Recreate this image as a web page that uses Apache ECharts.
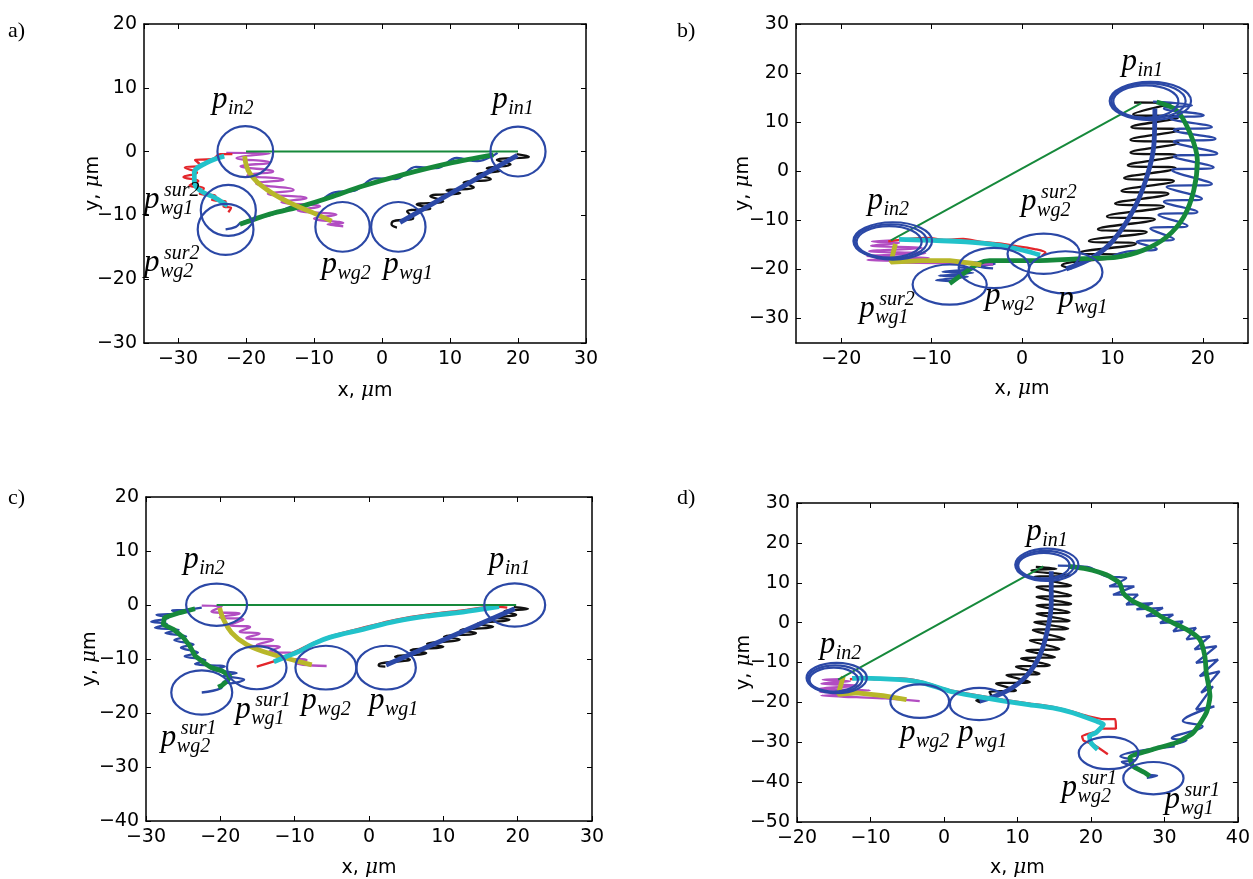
<!DOCTYPE html>
<html>
<head>
<meta charset="utf-8">
<script src="https://cdn.jsdelivr.net/npm/echarts@6/dist/echarts.min.js"></script>
<style>
  html, body { margin: 0; background: #fff; }
  #chart { width: 1253px; height: 879px; }
</style>
</head>
<body>
<div id="chart"></div>
<script>
// ---- panel a ----
const aCircles = [[-20.1, 0, 4.1, 4.0], [20, 0, 4.05, 3.9], [2.4, -11.8, 4.0, 3.9], [-5.8, -11.8, 4.0, 3.9], [-22.6, -9.2, 4.05, 4.0], [-23, -12.2, 4.1, 4.0]];
const aLink = [[-20, 0], [20, 0]];
const aGreen = [[16.4, -0.5], [10.0, -1.8], [3.1, -3.6], [-2.8, -5.4], [-7.7, -7.2], [-11.6, -8.5], [-16.5, -9.8], [-20.9, -11.4]];
const aBlueW = [[17, -0.2], [14, -1.5], [11, -1.0], [8, -2.6], [5, -2.4], [2, -4.3], [-1, -4.2], [-4, -6.1], [-7, -6.4], [-10, -8.2], [-13, -8.5], [-16, -9.8], [-19, -10.6], [-20.8, -11.2], [-21.5, -11.8], [-23, -12.2]];
const aBlack = [[19.8, -0.4], [21.6, -0.8], [16.9, -1.3], [18.9, -2.0], [15.4, -2.6], [17.4, -3.0], [14.0, -3.6], [16.0, -4.3], [12.0, -4.9], [13.5, -5.6], [9.5, -6.1], [11.5, -6.5], [7.1, -7.0], [9.0, -7.8], [5.1, -8.3], [7.1, -8.9], [3.7, -9.4], [4.6, -10.4], [1.7, -10.9], [1.4, -11.4], [2.2, -11.9]];
const aBlue = [[19.9, -0.6], [2.65, -11.1]];
const aMagenta = [[-22.9, -0.2], [-16.5, -0.3], [-21.4, -1.0], [-16.5, -1.7], [-20.8, -2.3], [-16.0, -3.1], [-19.8, -3.7], [-14.5, -4.4], [-18.5, -5.0], [-13.0, -6.0], [-16.8, -6.6], [-11.1, -7.3], [-14.8, -7.9], [-9.1, -8.6], [-12.4, -9.2], [-6.7, -9.9], [-10.0, -10.5], [-5.7, -11.2], [-8.0, -11.4], [-5.7, -11.7]];
const aOlive = [[-20.2, -0.7], [-19.5, -3.3], [-17.0, -5.9], [-13.6, -8.0], [-10.1, -9.6], [-7.4, -10.9]];
const aCyan = [[-23.2, -0.7], [-25.9, -1.8], [-27.6, -3.3], [-27.6, -4.9], [-26.6, -6.2], [-24.6, -7.2], [-23.4, -8.0], [-22.7, -8.5]];
const aRed = [[-22.0, -0.4], [-23.8, -0.4], [-25.0, -1.2], [-27.5, -1.3], [-26.6, -2.2], [-29.0, -2.5], [-27.2, -3.3], [-29.2, -4.0], [-27.0, -4.6], [-28.3, -5.3], [-26.2, -5.8], [-26.8, -6.6], [-24.5, -6.9], [-25.0, -7.6], [-23.0, -7.8], [-23.3, -8.6], [-22.2, -8.8], [-22.6, -9.5]];
const aLabels = [[-25.0, 6.5, 'in2', ''], [16.2, 6.5, 'in1', ''], [-35.0, -9.1, 'wg1', 'sur2'], [-35.0, -19.0, 'wg2', 'sur2'], [-8.9, -19.3, 'wg2', ''], [0.2, -19.3, 'wg1', '']];

// ---- panel b ----
const bCircles = [[14.2, 14.3, 4.5, 3.9], [14.0, 14.3, 4.1, 3.6], [13.7, 14.2, 3.6, 3.3],
  [-14.3, -14.2, 4.35, 3.8], [-14.5, -14.3, 4.0, 3.5], [-14.7, -14.4, 3.6, 3.2],
  [-8.0, -23.1, 4.1, 4.1], [-3.1, -19.7, 3.9, 4.1], [2.4, -16.8, 4.0, 4.1], [4.8, -20.6, 4.1, 4.3]];
const bLink = [[-14.5, -14.1], [13.2, 13.9]];
const bBlack = [[12.4, 14.0], [16.5, 13.8], [12.3, 11.6], [17.3, 11.0], [12.1, 9.0], [17.3, 8.4], [12.0, 6.4], [17.3, 5.8], [12.0, 3.8], [17.1, 3.2], [11.7, 1.2], [17.0, 0.6], [11.3, -1.4], [16.8, -2.0], [11.0, -4.0], [16.2, -4.6], [10.3, -6.6], [15.7, -7.2], [9.4, -9.2], [14.7, -9.8], [8.4, -11.8], [13.8, -12.4], [7.4, -14.2], [12.6, -14.8], [6.4, -16.6], [11.4, -17.2], [4.4, -19.2], [5.5, -19.8]];
const bBlue = [[14.7, 12.8], [14.6, 5.6], [13.8, -1.2], [12.3, -8.0], [10.1, -14.1], [7.9, -17.5], [4.9, -19.9]];
const bBlueW = [[14.5, 14.2], [18.8, 13.4], [15.7, 12.8], [20.1, 11.4], [16.4, 10.8], [21.0, 9.0], [16.8, 8.4], [21.4, 6.6], [16.8, 6.0], [21.6, 3.6], [16.8, 3.0], [21.2, 0.8], [16.6, 0.2], [21.0, -2.6], [16.0, -3.2], [19.9, -5.6], [15.7, -6.2], [19.4, -8.3], [15.1, -8.9], [18.3, -11.1], [14.2, -11.7], [16.8, -13.8], [12.7, -14.4], [14.9, -15.8], [11.6, -16.4], [10.0, -17.3]];
const bGreen = [[14.9, 14.1], [17.1, 12.4], [18.6, 7.7], [19.4, 2.2], [19.0, -3.9], [17.9, -9.3], [16.0, -13.4], [13.4, -16.1], [10.5, -17.5], [6.8, -17.8], [1.2, -18.2], [-3.6, -18.2], [-4.7, -18.7], [-8.0, -22.9]];
const bBlueTail = [[-7, -19.6], [-5.3, -19.9], [-8.8, -20.5], [-5.4, -20.7], [-9.2, -21.3], [-6, -21.5], [-9.5, -22.2], [-7.5, -22.4]];
const bBlueKink = [[-5.5, -18.6], [-3.0, -18.9], [-5.0, -19.4], [-3.2, -19.8]];
const bCyan = [[-13.6, -13.9], [-9.9, -14.1], [-6.2, -14.4], [-2.5, -15.1], [0.1, -16.1], [2.0, -17.1]];
const bRed = [[-14.8, -14.3], [-12.5, -13.8], [-10.5, -13.6], [-8.5, -14.0], [-6.5, -13.8], [-4.5, -14.4], [-2.5, -14.7], [-0.5, -15.3], [1.5, -15.9], [2.6, -16.6], [2.2, -17.2]];
const bMagenta = [[-14.3, -14.1], [-16.6, -14.3], [-13.6, -14.6], [-16.7, -15.2], [-11.1, -15.6], [-16.9, -16.3], [-10.7, -16.7], [-17.1, -17.3], [-10.3, -17.7], [-17.1, -18.1], [-10.7, -18.4], [-14, -18.6], [-8, -18.7], [-3.2, -19.0]];
const bOlive = [[-14.0, -14.8], [-14.5, -18.5], [-11, -18.2], [-8.0, -18.2], [-5.4, -18.8], [-4.5, -19.1]];
const bLabels = [[11.0, 20.3, 'in1', ''], [-17.1, -8.0, 'in2', ''], [-0.1, -8.2, 'wg2', 'sur2'], [-4.1, -27.4, 'wg2', ''], [4.0, -28.1, 'wg1', ''], [-18.0, -30.1, 'wg1', 'sur2']];

// ---- panel c ----
const cCircles = [[-20.5, 0.05, 4.1, 3.9], [19.6, 0, 4.1, 4.0], [2.3, -11.6, 4.0, 4.05], [-5.8, -11.6, 4.1, 4.05], [-15.1, -11.6, 4.0, 4.0], [-22.5, -16.2, 4.1, 4.1]];
const cLink = [[-20.5, 0], [19.8, 0]];
const cGreen = [[-23.4, -0.7], [-25.4, -1.4], [-27.5, -2.3], [-27.7, -3.6], [-26.3, -4.5], [-25.0, -6.0], [-24.1, -7.6], [-23.4, -9.4], [-22.3, -10.6], [-21.2, -11.6], [-19.8, -12.2], [-18.7, -13.1], [-19.0, -14.0], [-19.8, -14.9], [-20.3, -15.2]];
const cBlueW = [[-22.5, -0.5], [-24.5, -0.9], [-26.5, -1.0], [-25.5, -1.6], [-28.6, -1.8], [-27.0, -2.4], [-29.3, -3.1], [-27.2, -3.5], [-28.8, -4.2], [-25.6, -4.6], [-27.4, -5.2], [-24.6, -5.8], [-26.2, -6.5], [-23.6, -7.3], [-25.3, -7.9], [-23.0, -8.8], [-24.8, -9.5], [-22.0, -10.2], [-23.4, -10.9], [-19.4, -11.4], [-21.0, -12.0], [-17.8, -12.6], [-19.6, -13.1], [-16.8, -13.8], [-18.6, -14.5], [-19.5, -14.2], [-19.9, -15.4], [-22.5, -16.2]];
const cMagenta = [[-22.5, -0.1], [-19.8, -0.3], [-21.2, -1.2], [-17.4, -1.6], [-20.1, -2.3], [-16.9, -2.7], [-18.7, -3.7], [-16.0, -4.1], [-17.4, -4.9], [-14.7, -5.3], [-16.5, -6.1], [-12.9, -6.5], [-15.1, -7.4], [-12.0, -7.8], [-13.4, -8.6], [-10.2, -9.0], [-12.0, -9.8], [-8.4, -10.2], [-9.8, -10.8], [-5.7, -11.3]];
const cOlive = [[-20.1, -0.5], [-19.6, -2.6], [-18.5, -5.1], [-16.5, -7.3], [-13.8, -8.8], [-10.7, -10.0], [-7.7, -11.1]];
const cCyan = [[-12.8, -10.5], [-11.2, -9.6], [-9.4, -8.6], [-7.5, -7.2], [-5.3, -6.0], [-0.8, -4.5], [3.7, -3.0], [8.2, -2.0], [12.6, -1.3], [15.5, -0.7], [17.5, -0.3]];
const cRed = [[-15.1, -11.4], [-12.7, -10.4], [-11, -9.3], [-9.4, -8.3], [-7.3, -6.9], [-5.0, -5.7], [-0.8, -4.2], [3.7, -2.7], [8.2, -1.7], [12.6, -1.0], [16.8, -0.3], [18.6, -0.5]];
const cBlack = [[19.5, -0.4], [21.4, -0.7], [18.2, -1.2], [19.8, -1.8], [16.5, -2.3], [18.9, -2.7], [14.6, -3.5], [16.7, -4.0], [12.3, -4.7], [14.4, -5.2], [10.1, -5.9], [12.2, -6.4], [7.8, -7.2], [10.0, -7.7], [5.6, -8.4], [7.7, -8.9], [3.5, -9.6], [5.5, -10.1], [1.6, -10.8], [1.3, -11.2], [2.2, -11.4]];
const cBlue = [[19.6, -0.7], [2.3, -11.1]];
const cLabels = [[-25.0, 6.5, 'in2', ''], [16.1, 6.5, 'in1', ''], [-18.0, -21.3, 'wg1', 'sur1'], [-9.1, -19.6, 'wg2', ''], [0, -19.6, 'wg1', ''], [-28.0, -26.4, 'wg2', 'sur1']];

// ---- panel d ----
const dCircles = [[14.0, 14.5, 4.3, 4.05], [13.8, 14.4, 3.9, 3.6], [13.6, 14.3, 3.5, 3.2],
  [-14.6, -13.9, 4.1, 3.8], [-14.8, -14.1, 3.7, 3.4], [-15.0, -14.3, 3.3, 3.0],
  [-3.3, -19.7, 4.0, 4.2], [4.8, -20.4, 4.0, 4.05], [22.4, -32.7, 4.06, 4.05], [28.5, -39.0, 4.1, 4.05]];
const dLink = [[-14.4, -14.3], [13.5, 14.1]];
const dBlack = [[12.5, 14.0], [15.3, 13.5], [11.9, 13.1], [17.1, 11.8], [12.3, 11.4], [17.3, 9.3], [12.6, 8.9], [17.3, 6.8], [12.6, 6.4], [17.3, 4.7], [12.6, 4.3], [17.1, 2.6], [12.6, 2.2], [17.1, 0.5], [12.3, 0.1], [16.9, -1.5], [12.1, -1.9], [16.4, -4.1], [11.7, -4.5], [15.7, -6.6], [11.2, -7.0], [15.1, -8.6], [10.5, -9.0], [14.4, -10.7], [9.8, -11.1], [13.0, -12.8], [8.5, -13.2], [11.7, -14.9], [7.1, -15.3], [9.8, -17.0], [6.2, -17.4], [6.7, -19.1], [4.4, -19.5], [5.0, -20.0]];
const dBlue = [[14.6, 12.9], [14.6, 4.9], [14.1, -1.7], [13.0, -8.4], [11.2, -13.4], [8.5, -17.2], [4.85, -19.7]];
const dGreen = [[16.9, 14.1], [19.4, 13.5], [22.1, 12.0], [23.9, 9.9], [24.4, 7.4], [25.7, 5.4], [28.0, 3.3], [30.2, 0.8], [33.0, -1.7], [34.8, -4.2], [35.5, -8.4], [35.7, -12.6], [36.2, -18.4], [35.7, -22.6], [33.9, -27.6], [31.6, -30.1], [28.4, -31.8], [25.3, -33.9], [25.7, -36.0], [27.3, -37.6], [28.0, -38.5]];
const dBlueW = [[15.5, 14.3], [19.5, 14.0], [22.1, 11.6], [24.8, 11.2], [22.5, 9.1], [25.9, 9.1], [23.0, 7.0], [26.4, 7.0], [24.8, 4.5], [28.4, 4.9], [26.2, 3.3], [29.8, 3.7], [27.5, 1.6], [31.2, 2.0], [29.4, -0.1], [32.5, 0.3], [31.2, -2.2], [34.3, -1.3], [33.0, -4.2], [36.2, -3.4], [34.1, -6.7], [37.1, -5.9], [34.3, -10.1], [37.3, -9.3], [34.8, -13.4], [37.5, -12.2], [35.0, -17.6], [36.6, -16.0], [34.3, -21.8], [36.8, -21.0], [32.5, -24.7], [35.2, -26.0], [31.0, -29.0], [33.0, -29.5], [29.0, -31.2], [31.4, -31.0], [24.0, -33.6], [26.0, -34.6], [24.2, -34.9], [26.5, -36.5], [28.0, -38.2], [29.0, -38.4], [27.6, -38.9]];
const dCyan = [[-12.5, -14.0], [-11.2, -13.9], [-6.0, -14.3], [-2.9, -15.1], [0.8, -17.2], [4.4, -18.5], [8.0, -19.6], [11.7, -20.6], [14.8, -21.4], [17.5, -22.6], [20.7, -24.7], [21.7, -25.5], [20.7, -27.6], [19.8, -28.4], [20.0, -30.1], [20.9, -31.8]];
const dRed = [[-12.8, -14.2], [-11, -14.0], [-9.5, -14.2], [-6, -14.0], [-3, -14.8], [0.5, -16.8], [4.4, -18.2], [8, -19.3], [11.7, -20.3], [14.8, -21.1], [17.5, -22.3], [19.5, -23.4], [21.7, -24.2], [23.3, -24.2], [23.4, -26.6], [21.2, -26.6], [20.6, -27.4], [18.8, -28.5], [19.0, -29.6], [20.4, -30.6], [22.3, -33.0]];
const dMagenta = [[-14.0, -14.2], [-16.5, -14.3], [-12.8, -14.7], [-16.7, -15.3], [-11.5, -15.8], [-16.9, -16.5], [-10.1, -17.0], [-16.9, -17.4], [-11.0, -17.8], [-16.7, -18.3], [-11.9, -18.7], [-8.0, -19.0], [-3.3, -19.7]];
const dOlive = [[-13.7, -13.5], [-14.4, -18.0], [-11.9, -17.6], [-8.3, -18.3], [-5.1, -19.3]];
const dLabels = [[11.2, 20.3, 'in1', ''], [-16.9, -8.1, 'in2', ''], [-6.0, -30.2, 'wg2', ''], [1.9, -30.2, 'wg1', ''], [16.0, -44.0, 'wg2', 'sur1'], [30.0, -46.9, 'wg1', 'sur1']];

// axis ranges per panel
const xRanges = [[-35, 30], [-25, 25], [-30, 30], [-20, 40]];
const yRanges = [[-30, 20], [-35, 30], [-40, 20], [-50, 30]];
const panelNames = ['a)', 'b)', 'c)', 'd)'];

const BLUE = '#2b48a6', GREEN = '#16893b', CYAN = '#22c2ca', RED = '#e3262b',
      MAGENTA = '#b24dc2', OLIVE = '#b8b72a', BLACK = '#111';

const boxes = [
  {left: 144, top: 24, width: 442, height: 319, xGap: 38, yGap: 41},
  {left: 796, top: 24, width: 452, height: 319, xGap: 36, yGap: 43},
  {left: 146, top: 497, width: 446, height: 325, xGap: 37, yGap: 46},
  {left: 797, top: 503, width: 441, height: 320, xGap: 36, yGap: 43}
];

const minus = v => (v < 0 ? '\u2212' + (-v) : '' + v);
const tickFont = {color: '#000', fontSize: 19, fontFamily: 'DejaVu Sans', margin: 7, formatter: minus};
const nameStyle = {color: '#000', fontSize: 19, fontFamily: 'DejaVu Sans',
  rich: {mu: {fontSize: 20, fontFamily: 'DejaVu Serif', fontStyle: 'italic', color: '#000'}}};

function axisBase(range, gi) {
  const ax = {type: 'value', gridIndex: gi, min: range[0], max: range[1],
    axisLine: {show: true, onZero: false, lineStyle: {color: '#000', width: 1.5}},
    axisTick: {show: true, inside: true, length: 5, lineStyle: {color: '#000', width: 1}},
    splitLine: {show: false}};
  if (range[0] % 10 === 0) ax.interval = 10;
  else { ax.minInterval = 10; ax.maxInterval = 10; }
  return ax;
}

const xAxes = [], yAxes = [], grids = [];
boxes.forEach((b, gi) => {
  grids.push({left: b.left, top: b.top, width: b.width, height: b.height, containLabel: false});
  xAxes.push(Object.assign(axisBase(xRanges[gi], gi), {position: 'bottom',
    axisLabel: Object.assign({showMinLabel: xRanges[gi][0] % 10 === 0, showMaxLabel: xRanges[gi][1] % 10 === 0}, tickFont),
    name: 'x, {mu|\u03bc}m', nameLocation: 'middle', nameGap: b.xGap, nameMoveOverlap: false, nameTextStyle: nameStyle}));
  xAxes.push(Object.assign(axisBase(xRanges[gi], gi), {position: 'top', axisLabel: {show: false}}));
  yAxes.push(Object.assign(axisBase(yRanges[gi], gi), {position: 'left',
    axisLabel: Object.assign({showMinLabel: yRanges[gi][0] % 10 === 0, showMaxLabel: yRanges[gi][1] % 10 === 0}, tickFont),
    name: 'y, {mu|\u03bc}m', nameLocation: 'middle', nameGap: b.yGap, nameMoveOverlap: false, nameTextStyle: nameStyle}));
  yAxes.push(Object.assign(axisBase(yRanges[gi], gi), {position: 'right', axisLabel: {show: false}}));
});

// wiggle width, thick track width
const WW = 2.3, TW = 4.8;

function line(gi, data, color, width, smooth, z) {
  return {type: 'line', xAxisIndex: gi * 2, yAxisIndex: gi * 2, data: data,
    symbol: 'none', showSymbol: false, smooth: smooth || false, silent: true,
    lineStyle: {color: color, width: width}, z: z || 2};
}

function circles(gi, data) {
  return {type: 'custom', xAxisIndex: gi * 2, yAxisIndex: gi * 2, data: data, z: 6, silent: true,
    renderItem: function (params, api) {
      const c = api.coord([api.value(0), api.value(1)]);
      const s = api.size([api.value(2), api.value(3)]);
      return {type: 'ellipse', shape: {cx: c[0], cy: c[1], rx: s[0], ry: s[1]},
        style: {fill: 'none', stroke: BLUE, lineWidth: 2.2}};
    }};
}

const P_FONT = 'italic 31px "Liberation Serif"';
const S_FONT = 'italic 20px "Liberation Serif"';
function txt(x, y, text, font) {
  return {type: 'text', x: x, y: y,
    style: {text: text, font: font, fill: '#000', align: 'left', verticalAlign: 'middle',
      textAlign: 'left', textVerticalAlign: 'middle'}};
}
function labels(gi, list) {
  return {type: 'custom', xAxisIndex: gi * 2, yAxisIndex: gi * 2, z: 10, silent: true,
    data: list.map(l => [l[0], l[1]]),
    renderItem: function (params, api) {
      const l = list[params.dataIndex];
      const c = api.coord([l[0], l[1]]);
      const kids = [txt(c[0], c[1] - 10, 'p', P_FONT), txt(c[0] + 16, c[1] - 1, l[2], S_FONT)];
      if (l[3]) kids.push(txt(c[0] + 20, c[1] - 19, l[3], S_FONT));
      return {type: 'group', children: kids};
    }};
}

const series = [
  // a
  line(0, aBlack, BLACK, WW, 0.5), line(0, aBlueW, BLUE, WW, 0.4), line(0, aMagenta, MAGENTA, WW, 0.5), line(0, aRed, RED, WW, 0.5),
  line(0, aBlue, BLUE, TW, false, 3), line(0, aGreen, GREEN, TW, 0.3, 3), line(0, aOlive, OLIVE, TW, 0.4, 3), line(0, aCyan, CYAN, TW, 0.4, 3),
  line(0, aLink, GREEN, 2, false, 4), circles(0, aCircles), labels(0, aLabels),
  // b
  line(1, bBlack, BLACK, WW, 0.5), line(1, bBlueW, BLUE, WW, 0.5), line(1, bBlueTail, BLUE, WW, 0.3), line(1, bBlueKink, BLUE, WW, 0.3),
  line(1, bMagenta, MAGENTA, WW, 0.3), line(1, bRed, RED, WW, 0.3),
  line(1, bBlue, BLUE, TW, 0.4, 3), line(1, bGreen, GREEN, TW, 0.3, 3), line(1, bCyan, CYAN, TW, 0.4, 3), line(1, bOlive, OLIVE, TW, false, 3),
  line(1, bLink, GREEN, 2, false, 4), circles(1, bCircles), labels(1, bLabels),
  // c
  line(2, cBlack, BLACK, WW, 0.5), line(2, cBlueW, BLUE, WW, 0.4), line(2, cMagenta, MAGENTA, WW, 0.5), line(2, cRed, RED, WW, 0.3),
  line(2, cBlue, BLUE, TW, false, 3), line(2, cGreen, GREEN, TW, false, 3), line(2, cOlive, OLIVE, TW, 0.4, 3), line(2, cCyan, CYAN, TW, 0.4, 3),
  line(2, cLink, GREEN, 2, false, 4), circles(2, cCircles), labels(2, cLabels),
  // d
  line(3, dBlack, BLACK, WW, 0.5), line(3, dBlueW, BLUE, WW, 0.4), line(3, dMagenta, MAGENTA, WW, 0.3), line(3, dRed, RED, WW, 0.2),
  line(3, dBlue, BLUE, TW, 0.4, 3), line(3, dGreen, GREEN, TW, 0.2, 3), line(3, dCyan, CYAN, TW, 0.2, 3), line(3, dOlive, OLIVE, TW, false, 3),
  line(3, dLink, GREEN, 2, false, 4), circles(3, dCircles), labels(3, dLabels)
];

const panelPos = [[8, 20], [677, 20], [8, 487], [677, 487]];
const graphic = panelNames.map((t, i) => ({type: 'text', left: panelPos[i][0], top: panelPos[i][1],
  style: {text: t, font: '22px "Liberation Serif"', fill: '#000'}}));

const chart = echarts.init(document.getElementById('chart'), null, {renderer: 'canvas'});
chart.setOption({
  animation: false,
  backgroundColor: '#fff',
  grid: grids,
  xAxis: xAxes,
  yAxis: yAxes,
  graphic: graphic,
  series: series
});
</script>
</body>
</html>
